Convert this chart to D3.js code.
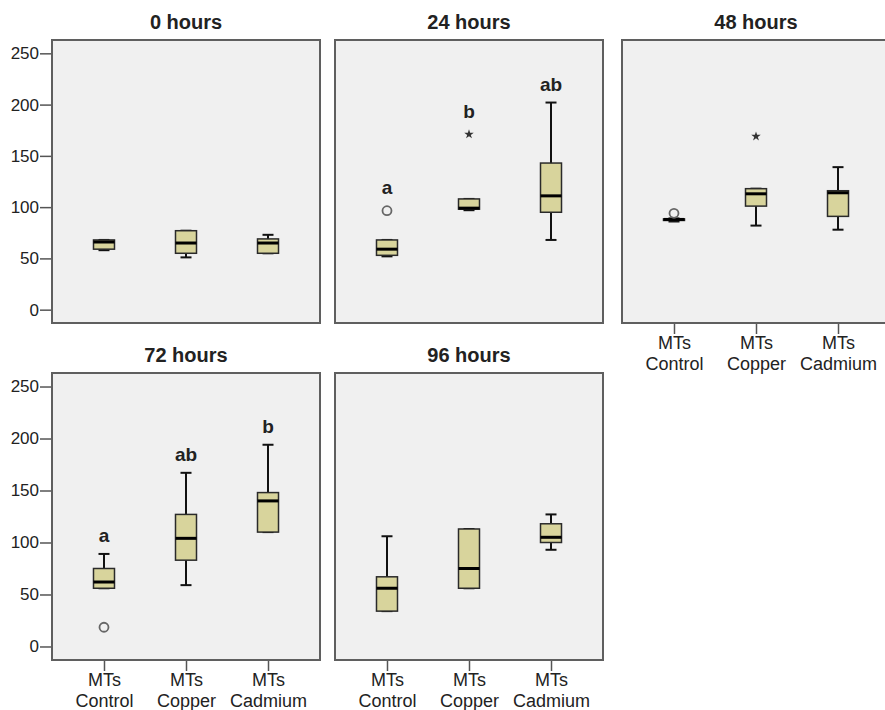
<!DOCTYPE html>
<html>
<head>
<meta charset="utf-8">
<script src="https://cdn.jsdelivr.net/npm/d3@7"></script>
<style>
  body { margin: 0; background: #fff; }
  text { font-family: "Liberation Sans", Arial, sans-serif; }
</style>
</head>
<body>
<div class="chart"></div>
<script>
// groups and panels
var categories = ["Control", "Copper", "Cadmium"];
var panelTitles = ["0 hours", "24 hours", "48 hours", "72 hours", "96 hours"];
var yTicks = [0, 50, 100, 150, 200, 250];

// box stats per panel: [min, q1, median, q3, max] for Control, Copper, Cadmium
var stats0h = [[58, 59, 66, 68, 68], [51, 55, 65, 77, 77], [55, 55, 65, 69, 73]];
var stats24h = [[52, 53, 59, 68, 68], [97, 98, 99, 108, 108], [68, 95, 111, 143, 202]];
var stats48h = [[86, 87, 88, 88.5, 89], [82, 101, 113, 118, 118], [78, 91, 114, 116, 139]];
var stats72h = [[56, 56, 62, 75, 89], [59, 83, 104, 127, 167], [110, 110, 140, 148, 194]];
var stats96h = [[34, 34, 56, 67, 106], [56, 56, 75, 113, 113], [93, 100, 105, 118, 127]];

// outliers: [category index, value, kind]
var outliers0h = [];
var outliers24h = [[0, 96.5, "circle"], [1, 171, "star"]];
var outliers48h = [[0, 94, "circle"], [1, 169, "star"]];
var outliers72h = [[0, 18.5, "circle"]];
var outliers96h = [];

// significance letters
var letters0h = [];
var letters24h = ["a", "b", "ab"];
var letters48h = [];
var letters72h = ["a", "ab", "b"];
var letters96h = [];

var panels = [
    {title: panelTitles[0], stats: stats0h, out: outliers0h, letters: letters0h, col: 0, row: 0},
    {title: panelTitles[1], stats: stats24h, out: outliers24h, letters: letters24h, col: 1, row: 0},
    {title: panelTitles[2], stats: stats48h, out: outliers48h, letters: letters48h, col: 2, row: 0},
    {title: panelTitles[3], stats: stats72h, out: outliers72h, letters: letters72h, col: 0, row: 1},
    {title: panelTitles[4], stats: stats96h, out: outliers96h, letters: letters96h, col: 1, row: 1}
];

var w = 885,
    h = 710;

var colLeft = [52, 335, 622],
    rowTop = [40, 373],
    rowHeight = [283, 287],
    pw = 268;

var boxW = 21,
    capW = 11;

var svg = d3.select(".chart")
    .append("svg")
    .attr("width", w)
    .attr("height", h);

var x = d3.scalePoint()
    .domain(categories)
    .range([0, pw])
    .padding(0.634);

panels.forEach(function (p) {
    var y = d3.scaleLinear()
        .domain([-13, 263])
        .range([rowHeight[p.row], 0]);

    var g = svg.append("g")
        .attr("transform", "translate(" + colLeft[p.col] + "," + rowTop[p.row] + ")");

    g.append("rect")
        .attr("width", pw)
        .attr("height", rowHeight[p.row])
        .attr("fill", "#f0f0f0")
        .attr("stroke", "#5f5f5f")
        .attr("stroke-width", 2);

    g.append("text")
        .attr("x", pw / 2)
        .attr("y", -11)
        .attr("text-anchor", "middle")
        .attr("font-size", 20)
        .attr("font-weight", "bold")
        .attr("fill", "#222")
        .text(p.title);

    // y axis on left column only
    if (p.col === 0) {
        var yAxis = g.append("g")
            .attr("transform", "translate(-1,0)")
            .call(d3.axisLeft(y).tickValues(yTicks).tickSize(11).tickPadding(1).tickFormat(d3.format("d")));
        yAxis.select(".domain").remove();
        yAxis.selectAll("line").attr("stroke", "#555").attr("stroke-width", 1.5);
        yAxis.selectAll("text").attr("font-size", 17).attr("fill", "#222")
            .style("font-family", "'Liberation Sans', Arial, sans-serif");
    }

    // x axis on bottom panels
    if (p.row === 1 || p.col === 2) {
        var xAxis = g.append("g")
            .attr("transform", "translate(0," + (rowHeight[p.row] + 1) + ")")
            .call(d3.axisBottom(x).tickSize(10).tickFormat(""));
        xAxis.select(".domain").remove();
        xAxis.selectAll("line").attr("stroke", "#555").attr("stroke-width", 1.5);
        xAxis.selectAll(".tick").each(function (d) {
            var t = d3.select(this).append("text")
                .attr("text-anchor", "middle")
                .attr("font-size", 18)
                .attr("fill", "#222")
                .style("font-family", "'Liberation Sans', Arial, sans-serif");
            t.append("tspan").attr("x", 0).attr("y", 25).text("MTs");
            t.append("tspan").attr("x", 0).attr("y", 46).text(d);
        });
    }

    var boxes = g.selectAll(".box")
        .data(p.stats)
        .enter().append("g")
        .attr("class", "box")
        .attr("transform", function (d, i) { return "translate(" + x(categories[i]) + ",0)"; });

    // whiskers
    boxes.append("line")
        .attr("y1", function (d) { return y(d[0]); })
        .attr("y2", function (d) { return y(d[4]); })
        .attr("stroke", "#111")
        .attr("stroke-width", 2);

    boxes.selectAll(".cap")
        .data(function (d) { return [d[0], d[4]]; })
        .enter().append("line")
        .attr("x1", -capW / 2)
        .attr("x2", capW / 2)
        .attr("y1", function (v) { return y(v); })
        .attr("y2", function (v) { return y(v); })
        .attr("stroke", "#111")
        .attr("stroke-width", 2);

    boxes.append("rect")
        .attr("x", -boxW / 2)
        .attr("width", boxW)
        .attr("y", function (d) { return y(d[3]); })
        .attr("height", function (d) { return Math.max(1, y(d[1]) - y(d[3])); })
        .attr("fill", "#d8d49c")
        .attr("stroke", "#2a2a2a")
        .attr("stroke-width", 1.5);

    boxes.append("line")
        .attr("x1", -boxW / 2)
        .attr("x2", boxW / 2)
        .attr("y1", function (d) { return y(d[2]); })
        .attr("y2", function (d) { return y(d[2]); })
        .attr("stroke", "#000")
        .attr("stroke-width", 3);

    // outliers
    p.out.forEach(function (o) {
        var cx = x(categories[o[0]]);
        if (o[2] === "circle") {
            g.append("circle")
                .attr("cx", cx)
                .attr("cy", y(o[1]))
                .attr("r", 4.5)
                .attr("fill", "none")
                .attr("stroke", "#666")
                .attr("stroke-width", 1.8);
        } else {
            g.append("path")
                .attr("d", d3.symbol().type(d3.symbolStar).size(28)())
                .attr("transform", "translate(" + cx + "," + y(o[1]) + ")")
                .attr("fill", "#333");
        }
    });

    // letters above the highest mark
    p.letters.forEach(function (l, i) {
        var top = y(p.stats[i][4]);
        p.out.forEach(function (o) {
            if (o[0] === i && y(o[1]) - 4.5 < top) top = y(o[1]) - 4.5;
        });
        g.append("text")
            .attr("x", x(categories[i]))
            .attr("y", top - 12)
            .attr("text-anchor", "middle")
            .attr("font-size", 19)
            .attr("font-weight", "bold")
            .attr("fill", "#222")
            .text(l);
    });
});
</script>
</body>
</html>
